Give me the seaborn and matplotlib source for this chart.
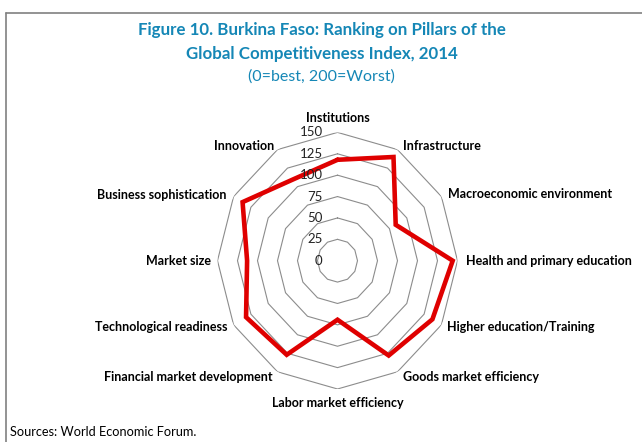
import numpy as np
import pandas as pd
import matplotlib
matplotlib.use('Agg')
import matplotlib.pyplot as plt
from matplotlib.lines import Line2D
import seaborn as sns

# pillars of the GCI, clockwise from the top
categories = ['Institutions', 'Infrastructure', 'Macroeconomic environment',
              'Health and primary education', 'Higher education/Training',
              'Goods market efficiency', 'Labor market efficiency',
              'Financial market development', 'Technological readiness',
              'Market size', 'Business sophistication', 'Innovation']
ranks = [118, 140, 84, 144, 137, 128, 69, 127, 132, 113, 137, 110]
ring_levels = [25, 50, 75, 100, 125, 150]
tick_labels = ['0', '25', '50', '75', '100', '125', '150']

sns.set_theme(style='white')
plt.rcParams['font.family'] = ['Lato', 'DejaVu Sans']

fig = plt.figure(figsize=(6.42, 4.42), dpi=100)
ax = fig.add_axes([217.5 / 642, 53 / 442, 240 / 642, 256.6 / 442], projection='polar')
ax.set_theta_zero_location('N')
ax.set_theta_direction(-1)

n = len(categories)
angles = np.linspace(0, 2 * np.pi, n, endpoint=False)
closed = np.append(angles, 2 * np.pi)

# polygon rings instead of circles
for lvl in ring_levels:
    ax.plot(closed, [lvl] * (n + 1), color='#8c8c8c', lw=0.8, zorder=1)

df = pd.DataFrame({'theta': closed, 'rank': ranks + ranks[:1]})
sns.lineplot(data=df, x='theta', y='rank', sort=False, estimator=None, ax=ax,
             color='#DF0000', lw=3.3, zorder=3, solid_joinstyle='miter')

ax.set_ylim(0, 150)
ax.set_xticks([])
ax.set_yticks([])
ax.set_xlabel('')
ax.set_ylabel('')
ax.grid(False)
ax.spines['polar'].set_visible(False)
ax.set_aspect('auto')
ax.patch.set_alpha(0)

# radial tick labels
for i, t in enumerate(tick_labels):
    ax.annotate(t, xy=(0, i * 25), xytext=(-15, 0), textcoords='offset pixels',
                ha='right', va='center', fontsize=9.5, color='#222222')

# category labels
offsets = [(0, 14), (5, 4), (7, 3), (8, 0), (6, -2), (5, -5),
           (0, -14), (-5, -5), (-6, -2), (-7, 0), (-7, 2), (-3, 4)]
for ang, cat, off in zip(angles, categories, offsets):
    deg = np.degrees(ang) % 360
    if deg < 1 or abs(deg - 180) < 1:
        ha = 'center'
    elif deg < 180:
        ha = 'left'
    else:
        ha = 'right'
    ax.annotate(cat, xy=(ang, 150), xytext=off, textcoords='offset pixels',
                ha=ha, va='center', fontsize=9, fontweight='bold', color='black')

title_color = '#1587B6'
fig.text(322 / 642, 1 - 30 / 442, 'Figure 10. Burkina Faso: Ranking on Pillars of the',
         ha='center', va='center', fontsize=12.2, fontweight='bold', color=title_color)
fig.text(322 / 642, 1 - 54 / 442, 'Global Competitiveness Index, 2014',
         ha='center', va='center', fontsize=12.2, fontweight='bold', color=title_color)
fig.text(321 / 642, 1 - 77 / 442, '(0=best, 200=Worst)',
         ha='center', va='center', fontsize=11.5, color=title_color)
fig.text(10 / 642, 1 - 432 / 442, 'Sources: World Economic Forum.',
         ha='left', va='center', fontsize=9.2, color='black')

# frame lines of the box
fig.add_artist(Line2D([6 / 642, 1], [1 - 13 / 442, 1 - 13 / 442], color='#808080', lw=1.2))
fig.add_artist(Line2D([6 / 642, 6 / 642], [0, 1 - 13 / 442], color='#808080', lw=1.2))

fig.savefig('out.png', dpi=100)
